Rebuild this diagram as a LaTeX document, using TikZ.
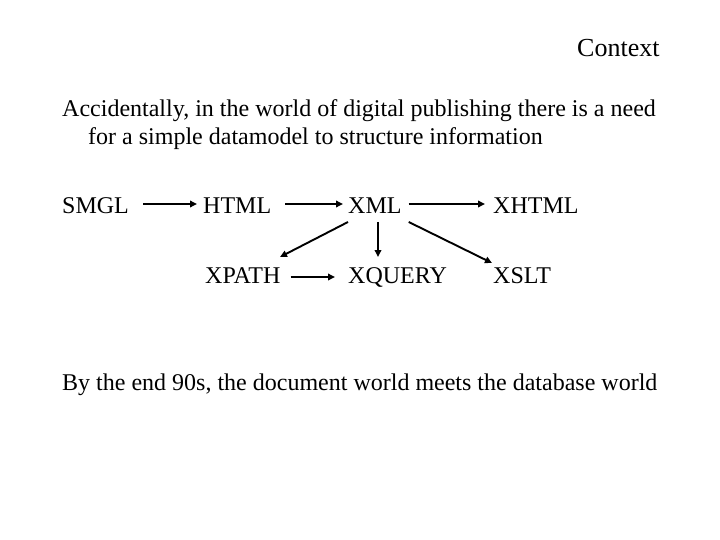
\documentclass[tikz,border=0pt]{standalone}
\usepackage{fontspec}
\setmainfont{Liberation Serif}
\usetikzlibrary{arrows.meta,calc}
\begin{document}
\begin{tikzpicture}[x=1pt,y=-1pt,
  txt/.style={anchor=base west,inner sep=0pt,font=\fontsize{24}{29}\selectfont},
  arr/.style={line width=1.9pt,-{Triangle[length=7pt,width=6.5pt]}}]
\useasboundingbox[fill=white] (0,0) rectangle (720,540);
\node[txt,font=\fontsize{26}{30}\selectfont] (title) at (577,57) {Context};
\node[txt] (p1) at (62,117) {Accidentally, in the world of digital publishing there is a need};
\node[txt] (p2) at (88,145) {for a simple datamodel to structure information};
\node[txt] (smgl) at (62,214) {SMGL};
\node[txt] (html) at (203,214) {HTML};
\node[txt] (xml) at (348,214) {XML};
\node[txt] (xhtml) at (493,214) {XHTML};
\node[txt] (xpath) at (205,283) {XPATH};
\node[txt] (xquery) at (348,283) {XQUERY};
\node[txt] (xslt) at (493,283) {XSLT};
\node[txt] (p3) at (62,390) {By the end 90s, the document world meets the database world};
\draw[arr] ($(smgl.base east)+(14,-10)$) -- ($(html.base west)+(-6,-10)$);
\draw[arr] ($(html.base east)+(14,-10)$) -- ($(xml.base west)+(-5,-10)$);
\draw[arr] ($(xml.base east)+(7,-10)$) -- ($(xhtml.base west)+(-8,-10)$);
\draw[arr] ($(xml.base west)+(0,8)$) -- ($(xpath.base west)+(75,-26)$);
\draw[arr] ($(xml.base west)+(30,8)$) -- ($(xquery.base west)+(30,-26)$);
\draw[arr] ($(xml.base east)+(7,8)$) -- ($(xslt.base west)+(-1,-20)$);
\draw[arr] ($(xpath.base east)+(10,-6)$) -- ($(xquery.base west)+(-13,-6)$);
\end{tikzpicture}
\end{document}
